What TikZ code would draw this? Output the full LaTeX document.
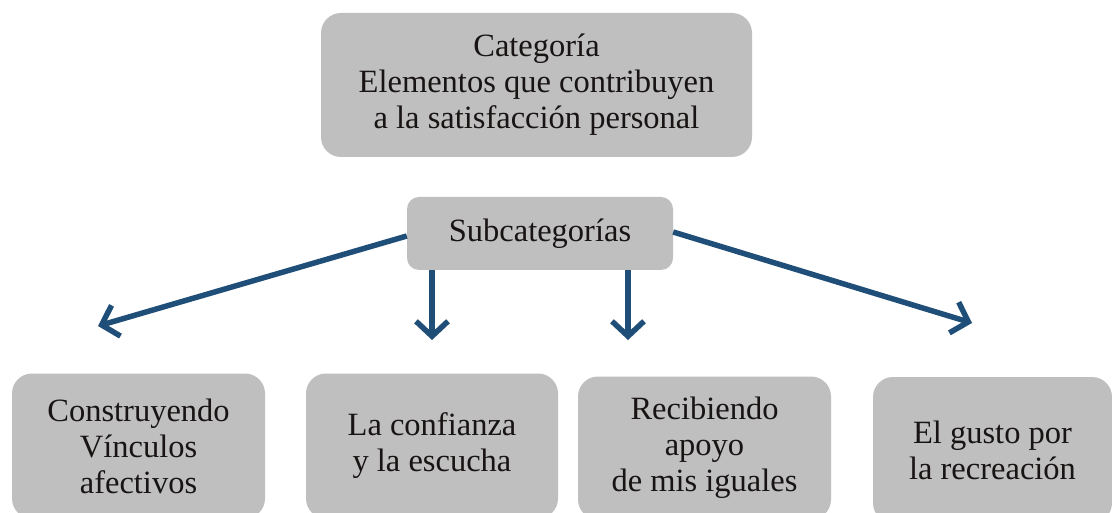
\documentclass[tikz,border=0pt]{standalone}
\usepackage{fontspec}
\setmainfont{Liberation Serif}
\usetikzlibrary{arrows.meta}
\definecolor{boxgray}{RGB}{191,191,191}
\definecolor{arrowblue}{RGB}{31,78,121}
\definecolor{txt}{RGB}{25,20,20}
\tikzset{
  gbox/.style={fill=boxgray, draw=none, rounded corners=20pt, align=center,
    text=txt, inner sep=0pt,
    font=\fontsize{32.5}{36}\selectfont},
  conn/.style={draw=arrowblue, line width=5.5pt,
    -{Straight Barb[length=15pt,width=32pt,line width=5.5pt]}}
}
\begin{document}
\begin{tikzpicture}[x=1pt,y=-1pt]
\useasboundingbox (0,0) rectangle (1112,513);
\clip (0,0) rectangle (1112,513);
\fill[white] (0,0) rectangle (1112,513);
\node[gbox, minimum width=431pt, minimum height=144pt] (cat) at (536.5,85)
  {Categoría\\Elementos que contribuyen\\a la satisfacción personal};
\node[gbox, minimum width=266pt, minimum height=73pt, rounded corners=12pt] (sub) at (540,233.5)
  {Subcategorías};
\node[gbox, minimum width=253pt, minimum height=145pt] (b1) at (138.5,446)
  {Construyendo\\Vínculos\\afectivos};
\node[gbox, minimum width=252pt, minimum height=145pt] (b2) at (432,446)
  {La confianza\\y la escucha};
\node[gbox, minimum width=253pt, minimum height=143pt] (b3) at (704.5,448)
  {Recibiendo\\apoyo\\de mis iguales};
\node[gbox, minimum width=239pt, minimum height=146pt] (b4) at (992.5,450)
  {El gusto por\\la recreación};
\coordinate (t1) at (98,326);
\coordinate (t2) at (432,340);
\coordinate (t3) at (628,340);
\coordinate (t4) at (972,323);
\draw[conn] (sub.west |- 0,236) -- (t1);
\draw[conn] (sub.south -| t2) -- (t2);
\draw[conn] (sub.south -| t3) -- (t3);
\draw[conn] (sub.east |- 0,232) -- (t4);
\end{tikzpicture}
\end{document}
